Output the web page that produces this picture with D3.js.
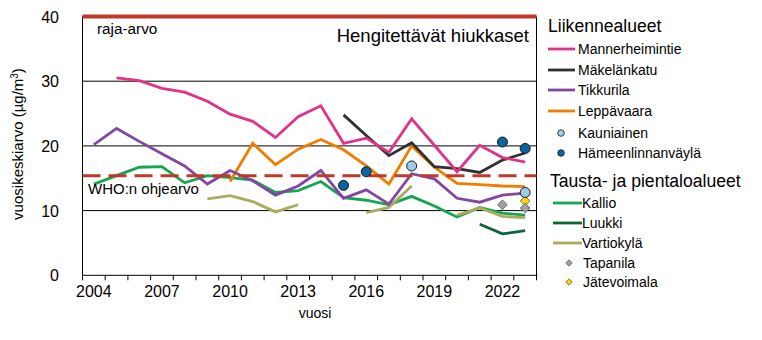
<!DOCTYPE html>
<html>
<head>
<meta charset="utf-8">
<script src="https://cdn.jsdelivr.net/npm/d3@7"></script>
<style>
  body { margin: 0; background: #fff; }
  text { font-family: "Liberation Sans", Arial, sans-serif; fill: #000; }
</style>
</head>
<body>
<div id="wrapper"></div>
<script>
const years = [2004, 2005, 2006, 2007, 2008, 2009, 2010, 2011, 2012, 2013,
               2014, 2015, 2016, 2017, 2018, 2019, 2020, 2021, 2022, 2023]
const xTickLabels = [2004, 2007, 2010, 2013, 2016, 2019, 2022]
const yTicks = [0, 10, 20, 30, 40]

const mannerheimintie = [null, 30.5, 30.1, 28.9, 28.3, 26.9, 24.9, 23.8, 21.3, 24.5,
                         26.2, 20.4, 21.2, 19.0, 24.2, 20.1, 16.0, 20.1, 18.2, 17.5]
const makelankatu = [null, null, null, null, null, null, null, null, null, null,
                     null, 24.8, 21.6, 18.5, 20.5, 16.8, 16.5, 15.9, 17.8, 18.9]
const tikkurila = [20.2, 22.7, 20.7, 18.8, 16.9, 14.1, 16.2, 14.6, 12.4, 13.8,
                   16.2, 11.9, 13.2, 11.0, 15.7, 14.9, 11.9, 11.3, 12.4, 12.7]
const leppavaara = [null, null, null, null, null, null, 14.5, 20.4, 17.1, 19.5,
                    21.0, 19.4, 16.9, 14.1, 20.0, 16.7, 14.2, 14.0, 13.8, 13.7]
const kallio = [14.1, 15.4, 16.7, 16.8, 14.3, 15.4, 15.1, 14.7, 12.8, 13.1,
                14.5, 12.0, 11.6, 10.9, 12.2, 10.7, 9.0, 10.5, 9.6, 9.3]
const luukki = [null, null, null, null, null, null, null, null, null, null,
                null, null, null, null, null, null, null, 7.9, 6.4, 6.9]
const vartiokyla = [null, null, null, null, null, 11.8, 12.3, 11.4, 9.8, 10.9,
                    null, null, 9.7, 10.5, 13.8, null, 9.3, 10.4, 9.1, 8.9]

const kauniainen = [[2018, 16.9], [2023, 12.8]]
const hameenlinnanvayla = [[2015, 13.9], [2016, 16.0], [2022, 20.6], [2023, 19.6]]
const tapanila = [[2022, 10.9], [2023, 10.4]]
const jatevoimala = [[2023, 11.5]]

const limitValue = 40
const whoValue = 15.4

const lineSeries = [
  { name: "Kallio", values: kallio, color: "#16a651" },
  { name: "Luukki", values: luukki, color: "#0b6534" },
  { name: "Vartiokylä", values: vartiokyla, color: "#abab5c" },
  { name: "Leppävaara", values: leppavaara, color: "#f07d00" },
  { name: "Tikkurila", values: tikkurila, color: "#8446a0" },
  { name: "Mäkelänkatu", values: makelankatu, color: "#303030" },
  { name: "Mannerheimintie", values: mannerheimintie, color: "#e0338a" },
]
const colorOf = name => lineSeries.find(s => s.name === name).color

// dimensions
const width = 762
const height = 340
const plot = { left: 82.5, right: 536.5, top: 16.5, bottom: 275.3 }

const svg = d3.select("#wrapper").append("svg")
    .attr("width", width)
    .attr("height", height)

const x = d3.scaleBand()
    .domain(years)
    .range([plot.left, plot.right])
    .padding(0)
const xc = yr => x(yr) + x.bandwidth() / 2

const y = d3.scaleLinear()
    .domain([0, 40])
    .range([plot.bottom, plot.top])

// grid
svg.append("g").selectAll("line")
  .data(yTicks.filter(d => d > 0 && d < 40))
  .join("line")
    .attr("x1", plot.left).attr("x2", plot.right)
    .attr("y1", d => y(d)).attr("y2", d => y(d))
    .attr("stroke", "#000").attr("stroke-width", 1)

// frame lines
svg.append("line")
    .attr("x1", plot.left).attr("x2", plot.left)
    .attr("y1", plot.top).attr("y2", plot.bottom)
    .attr("stroke", "#000")
svg.append("line")
    .attr("x1", plot.right).attr("x2", plot.right)
    .attr("y1", plot.top).attr("y2", plot.bottom)
    .attr("stroke", "#000")
svg.append("line")
    .attr("x1", plot.left).attr("x2", plot.right + 1)
    .attr("y1", plot.bottom).attr("y2", plot.bottom)
    .attr("stroke", "#000")

// x ticks at band edges
const edges = years.map(d => x(d)).concat([plot.right])
svg.append("g").selectAll("line")
  .data(edges)
  .join("line")
    .attr("x1", d => d).attr("x2", d => d)
    .attr("y1", plot.bottom).attr("y2", plot.bottom + 5)
    .attr("stroke", "#000")

svg.append("g").selectAll("text")
  .data(xTickLabels)
  .join("text")
    .attr("x", d => xc(d))
    .attr("y", 297)
    .attr("text-anchor", "middle")
    .style("font-size", "16px")
    .text(d => d)

svg.append("g").selectAll("text")
  .data(yTicks)
  .join("text")
    .attr("x", 59)
    .attr("y", d => y(d) + 6)
    .attr("text-anchor", "end")
    .style("font-size", "16px")
    .text(d => d)

svg.append("text")
    .attr("x", xc(2013) + 17)
    .attr("y", 318)
    .attr("text-anchor", "middle")
    .style("font-size", "14px")
    .text("vuosi")

svg.append("text")
    .attr("transform", "translate(23,144) rotate(-90)")
    .attr("text-anchor", "middle")
    .style("font-size", "15px")
    .html("vuosikeskiarvo (µg/m<tspan dy='-5' font-size='10px'>3</tspan><tspan dy='5'>)</tspan>")

// limit value line
svg.append("line")
    .attr("x1", plot.left).attr("x2", plot.right)
    .attr("y1", y(limitValue)).attr("y2", y(limitValue))
    .attr("stroke", "#c0392b").attr("stroke-width", 4)

svg.append("text")
    .attr("x", 97)
    .attr("y", 34)
    .style("font-size", "15.3px")
    .text("raja-arvo")

svg.append("text")
    .attr("x", 529)
    .attr("y", 42)
    .attr("text-anchor", "end")
    .style("font-size", "18.5px")
    .text("Hengitettävät hiukkaset")

// data lines
const lineGen = d3.line()
    .defined(d => d[1] != null)
    .x(d => xc(d[0]))
    .y(d => y(d[1]))

svg.append("g").selectAll("path")
  .data(lineSeries)
  .join("path")
    .attr("d", s => lineGen(years.map((yr, i) => [yr, s.values[i]])))
    .attr("fill", "none")
    .attr("stroke", s => s.color)
    .attr("stroke-width", 2.8)
    .attr("stroke-linejoin", "miter")

// WHO guideline
svg.append("line")
    .attr("x1", plot.left).attr("x2", plot.right)
    .attr("y1", y(whoValue)).attr("y2", y(whoValue))
    .attr("stroke", "#c0392b").attr("stroke-width", 3)
    .attr("stroke-dasharray", "18,8")

svg.append("text")
    .attr("x", 88)
    .attr("y", 194)
    .style("font-size", "15px")
    .text("WHO:n ohjearvo")

// markers
const diamond = d3.symbol().type(d3.symbolDiamond2)

const drawCircles = (data, fill) => svg.append("g").selectAll("circle")
  .data(data)
  .join("circle")
    .attr("cx", d => xc(d[0]))
    .attr("cy", d => y(d[1]))
    .attr("r", 5)
    .attr("fill", fill)
    .attr("stroke", "#1a1a1a")
    .attr("stroke-width", 1)

const drawDiamonds = (data, fill) => svg.append("g").selectAll("path")
  .data(data)
  .join("path")
    .attr("transform", d => `translate(${xc(d[0])},${y(d[1])})`)
    .attr("d", diamond.size(60)())
    .attr("fill", fill)
    .attr("stroke", "#555")
    .attr("stroke-width", 0.8)

drawDiamonds(jatevoimala, "#ffd200")
drawDiamonds(tapanila, "#a0a0a0")
drawCircles(kauniainen, "#9dcbea")
drawCircles(hameenlinnanvayla, "#0a64a0")

// legend
const legend = svg.append("g")

const legendGroups = [
  { title: "Liikennealueet", ty: 32, x0: 548, x1: 575, tx: 578, items: [
    { name: "Mannerheimintie", type: "line", y: 49 },
    { name: "Mäkelänkatu", type: "line", y: 70 },
    { name: "Tikkurila", type: "line", y: 90 },
    { name: "Leppävaara", type: "line", y: 111 },
    { name: "Kauniainen", type: "circle", fill: "#9dcbea", y: 133 },
    { name: "Hämeenlinnanväylä", type: "circle", fill: "#0a64a0", y: 153 },
  ]},
  { title: "Tausta- ja pientaloalueet", ty: 186.5, x0: 553, x1: 582, tx: 582, items: [
    { name: "Kallio", type: "line", y: 203 },
    { name: "Luukki", type: "line", y: 223 },
    { name: "Vartiokylä", type: "line", y: 243 },
    { name: "Tapanila", type: "diamond", fill: "#a0a0a0", y: 263 },
    { name: "Jätevoimala", type: "diamond", fill: "#ffd200", y: 282 },
  ]},
]

legendGroups.forEach(g => {
  legend.append("text")
      .attr("x", g.x0 - (g.x0 === 553 ? 3 : 0))
      .attr("y", g.ty)
      .style("font-size", "17.6px")
      .text(g.title)
  g.items.forEach(it => {
    if (it.type === "line") {
      legend.append("line")
          .attr("x1", g.x0).attr("x2", g.x1)
          .attr("y1", it.y).attr("y2", it.y)
          .attr("stroke", colorOf(it.name))
          .attr("stroke-width", 2.8)
    } else if (it.type === "circle") {
      legend.append("circle")
          .attr("cx", 561).attr("cy", it.y)
          .attr("r", 3.3)
          .attr("fill", it.fill)
          .attr("stroke", "#1a1a1a").attr("stroke-width", 0.8)
    } else {
      legend.append("path")
          .attr("transform", `translate(569,${it.y})`)
          .attr("d", diamond.size(26)())
          .attr("fill", it.fill)
          .attr("stroke", "#555").attr("stroke-width", 0.8)
    }
    legend.append("text")
        .attr("x", it.type === "line" ? g.tx : (it.type === "circle" ? 578 : 583))
        .attr("y", it.y + 5)
        .style("font-size", "14px")
        .text(it.name)
  })
})
</script>
</body>
</html>
